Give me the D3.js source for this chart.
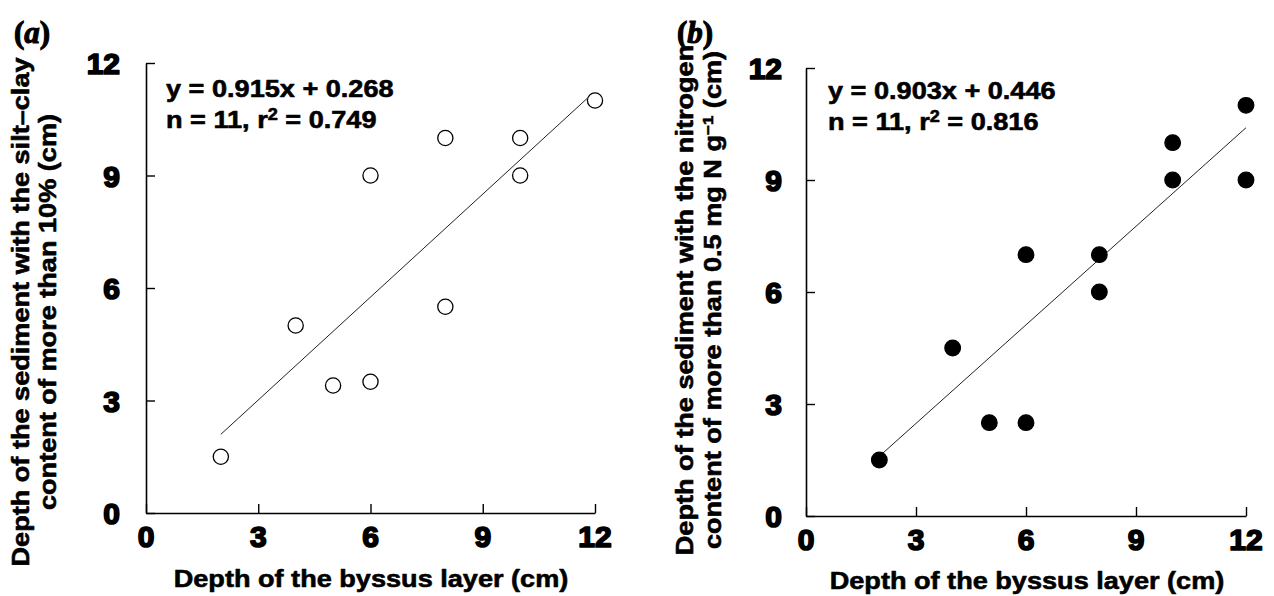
<!DOCTYPE html>
<html>
<head>
<meta charset="utf-8">
<script src="https://cdn.jsdelivr.net/npm/d3@7"></script>
<style>
  html, body { margin: 0; padding: 0; background: #fff; }
  svg { display: block; }
</style>
</head>
<body>
<svg id="chart" width="1274" height="596"></svg>
<script>
// ---------- data ----------
const xTicks = [0, 3, 6, 9, 12];
const yTicks = [0, 3, 6, 9, 12];

// panel (a): silt-clay
const siltX = [2, 4, 5, 6, 6, 8, 8, 10, 10, 12];
const siltY = [1.5, 5, 3.4, 3.5, 9, 10, 5.5, 10, 9, 11];
const siltSlope = 0.915, siltIntercept = 0.268;
const siltFitX = [2, 11.8];
const siltEq = ["y = 0.915x + 0.268", "n = 11, r", "2", " = 0.749"];

// panel (b): nitrogen
const nitroX = [2, 4, 5, 6, 6, 8, 8, 10, 10, 12, 12];
const nitroY = [1.5, 4.5, 2.5, 2.5, 7, 7, 6, 10, 9, 11, 9];
const nitroFitX = [2, 12];
const nitroFitY = [1.6, 10.4];
const nitroEq = ["y = 0.903x + 0.446", "n = 11, r", "2", " = 0.816"];

const xTitle = "Depth of the byssus layer (cm)";
const yTitleA = ["Depth of the sediment with the silt\u2013clay", "content of more than 10% (cm)"];
const yTitleB = ["Depth of the sediment with the nitrogen", "content of more than 0.5 mg N g", "\u22121", " (cm)"];

// ---------- drawing ----------
const SANS = '"Liberation Sans", Arial, Helvetica, sans-serif';
const SERIF = '"Liberation Serif", "Times New Roman", Times, serif';
const svg = d3.select("#chart");
const SX = 1.13;

function txt(sel, size, sw) {
  return sel.attr("font-family", SANS).attr("font-weight", "bold").attr("font-size", size)
    .attr("fill", "#000").attr("stroke", "#000").attr("stroke-width", sw)
    .attr("stroke-linejoin", "round");
}

function panel(cfg) {
  const x = d3.scaleLinear().domain([0, 12]).range(cfg.xr);
  const y = d3.scaleLinear().domain([0, 12]).range(cfg.yr);
  const g = svg.append("g");

  const xa = g.append("g").attr("transform", `translate(0,${cfg.yr[0]})`)
    .call(d3.axisBottom(x).tickValues(xTicks).tickSize(-9).tickSizeOuter(0).tickFormat(""));
  const ya = g.append("g").attr("transform", `translate(${cfg.xr[0]},0)`)
    .call(d3.axisLeft(y).tickValues(yTicks).tickSize(-9).tickSizeOuter(0).tickFormat(""));
  [xa, ya].forEach(a => {
    a.selectAll("path").attr("stroke", "#000").attr("stroke-width", 1.6);
    a.selectAll("line").attr("stroke", "#000").attr("stroke-width", 1.4);
    a.selectAll("text").remove();
  });

  // tick labels
  const tl = g.append("g");
  txt(tl.selectAll("text.xt").data(xTicks).join("text").attr("class", "xt"), 30, 1.7)
    .attr("x", d => x(d)).attr("y", cfg.yr[0] + cfg.xpad)
    .attr("text-anchor", "middle").text(d => d);
  txt(tl.selectAll("text.yt").data(yTicks).join("text").attr("class", "yt"), 30, 1.7)
    .attr("x", cfg.xr[0] - cfg.ypad).attr("y", d => y(d) + 11)
    .attr("text-anchor", "end").text(d => d);

  // fit line
  g.append("line")
    .attr("x1", x(cfg.fitX[0])).attr("y1", y(cfg.fitY[0]))
    .attr("x2", x(cfg.fitX[1])).attr("y2", y(cfg.fitY[1]))
    .attr("stroke", "#222").attr("stroke-width", 1);

  // points
  g.selectAll("circle.pt").data(cfg.px.map((v, i) => [v, cfg.py[i]])).join("circle")
    .attr("class", "pt")
    .attr("cx", d => x(d[0])).attr("cy", d => y(d[1]))
    .attr("r", cfg.filled ? 7.8 : 7.6)
    .attr("fill", cfg.filled ? "#000" : "#fff")
    .attr("stroke", "#000").attr("stroke-width", 1.3);

  // equations
  txt(g.append("text"), 24, 0.6).attr("transform", `translate(${cfg.eqX},${cfg.eqY}) scale(${SX},1)`)
    .text(cfg.eq[0]);
  const eq2 = txt(g.append("text"), 24, 0.6).attr("transform", `translate(${cfg.eqX},${cfg.eqY + 31}) scale(${SX},1)`);
  eq2.append("tspan").text(cfg.eq[1]);
  eq2.append("tspan").attr("dy", -8).attr("font-size", 16).text(cfg.eq[2]);
  eq2.append("tspan").attr("dy", 8).text(cfg.eq[3]);

  // x title
  txt(g.append("text"), 24, 0.6).attr("transform", `translate(${cfg.xtX},${cfg.xtY}) scale(${SX},1)`)
    .attr("text-anchor", "middle").text(xTitle);

  // y title
  txt(g.append("text"), 24, 0.6).attr("transform", `translate(${cfg.yt1X},${cfg.ytY}) rotate(-90) scale(${SX},1)`)
    .attr("text-anchor", "middle").text(cfg.yTitle[0]);
  const t2 = txt(g.append("text"), 24, 0.6).attr("transform", `translate(${cfg.yt2X},${cfg.ytY}) rotate(-90) scale(${SX},1)`)
    .attr("text-anchor", "middle");
  t2.append("tspan").text(cfg.yTitle[1]);
  if (cfg.yTitle.length > 2) {
    t2.append("tspan").attr("dy", -8).attr("font-size", 15).text(cfg.yTitle[2]);
    t2.append("tspan").attr("dy", 8).text(cfg.yTitle[3]);
  }

  // panel letter
  const pl = g.append("text").attr("x", cfg.lX).attr("y", cfg.lY)
    .attr("font-family", SERIF).attr("font-weight", "bold").attr("font-size", 31)
    .attr("fill", "#000").attr("stroke", "#000").attr("stroke-width", 1.1);
  pl.append("tspan").text("(");
  pl.append("tspan").attr("font-style", "italic").text(cfg.letter);
  pl.append("tspan").text(")");
}

panel({
  xr: [146, 595], yr: [513, 63], xpad: 34, ypad: 26,
  px: siltX, py: siltY, filled: false,
  fitX: siltFitX, fitY: siltFitX.map(v => siltSlope * v + siltIntercept),
  eq: siltEq, eqX: 166, eqY: 97,
  xtX: 371, xtY: 587,
  yTitle: yTitleA, yt1X: 29, yt2X: 56, ytY: 312,
  letter: "a", lX: 14, lY: 43
});

panel({
  xr: [806, 1246], yr: [516, 68], xpad: 34, ypad: 24,
  px: nitroX, py: nitroY, filled: true,
  fitX: nitroFitX, fitY: nitroFitY,
  eq: nitroEq, eqX: 828, eqY: 99,
  xtX: 1027, xtY: 589,
  yTitle: yTitleB, yt1X: 693, yt2X: 721, ytY: 300,
  letter: "b", lX: 677, lY: 43
});
</script>
</body>
</html>
